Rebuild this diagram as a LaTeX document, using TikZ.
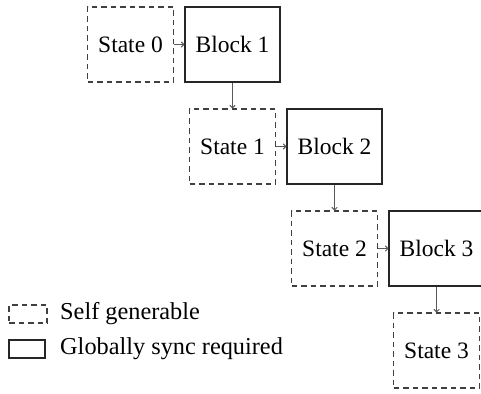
\documentclass[tikz,border=0pt]{standalone}
\usepackage{fontspec}
\setmainfont{Liberation Serif}
\usetikzlibrary{arrows.meta}
\begin{document}
\begin{tikzpicture}[x=1pt,y=-1pt,
  every node/.style={font=\fontsize{23.5}{27}\selectfont},
  statebox/.style={draw=black!75, line width=1.1pt, dash pattern=on 5.5pt off 4pt, minimum width=86pt, minimum height=75pt, inner sep=0pt},
  blockbox/.style={draw=black!85, line width=1.1pt, minimum width=95pt, minimum height=75pt, inner sep=0pt},
  link/.style={draw=black!65, line width=1pt, -{To[length=3.5pt,width=6pt]}},
  legdash/.style={draw=black!75, line width=1.1pt, dash pattern=on 5.5pt off 4pt, minimum width=38pt, minimum height=18pt, inner sep=0pt},
  legsolid/.style={draw=black!85, line width=1.1pt, minimum width=36pt, minimum height=18pt, inner sep=0pt},
  legtext/.style={anchor=west, inner sep=0pt, font=\fontsize{24.3}{28}\selectfont}]
\clip (0,0) rectangle (481,393);
\node[statebox] (s0) at (130.5,44.5) {State 0};
\node[blockbox] (b1) at (232.5,44.5) {Block 1};
\node[statebox] (s1) at (232.5,146.5) {State 1};
\node[blockbox] (b2) at (334.5,146.5) {Block 2};
\node[statebox] (s2) at (334.5,248.5) {State 2};
\node[blockbox] (b3) at (436.5,248.5) {Block 3};
\node[statebox] (s3) at (436.5,350.5) {State 3};
\draw[link] (s0) -- (b1);
\draw[link] (b1) -- (s1);
\draw[link] (s1) -- (b2);
\draw[link] (b2) -- (s2);
\draw[link] (s2) -- (b3);
\draw[link] (b3) -- (s3);
\node[legdash] (ld) at (28,314) {};
\node[legsolid] (ls) at (27,349) {};
\node[legtext] (lt1) at (60,314) {Self generable};
\node[legtext] (lt2) at (60,349) {Globally sync required};
\end{tikzpicture}
\end{document}
